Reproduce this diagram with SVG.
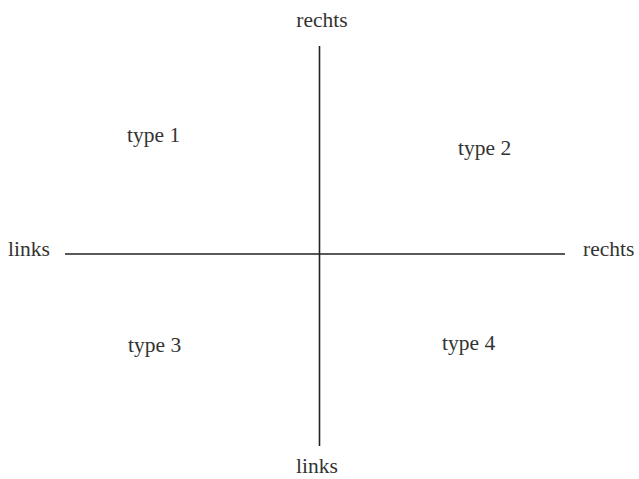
<svg xmlns="http://www.w3.org/2000/svg" width="639" height="479" viewBox="0 0 639 479">
<style>
text{font-family:"Liberation Serif","Times New Roman",serif;font-size:21.5px;fill:#333}
.ax{stroke:#222;stroke-width:1.6;fill:none}
</style>
<rect width="639" height="479" fill="#fff"/>
<g id="connectors">
<line class="ax" x1="319.5" y1="46" x2="319.5" y2="446"/>
<line class="ax" x1="65" y1="254" x2="565" y2="254"/>
</g>
<g id="top-label"><text x="322" y="27" text-anchor="middle">rechts</text></g>
<g id="bottom-label"><text x="317" y="473" text-anchor="middle">links</text></g>
<g id="left-label"><text x="8" y="256">links</text></g>
<g id="right-label"><text x="583" y="256">rechts</text></g>
<g id="type1"><text x="127" y="142">type 1</text></g>
<g id="type2"><text x="458" y="155">type 2</text></g>
<g id="type3"><text x="128" y="352">type 3</text></g>
<g id="type4"><text x="442" y="350">type 4</text></g>
</svg>
